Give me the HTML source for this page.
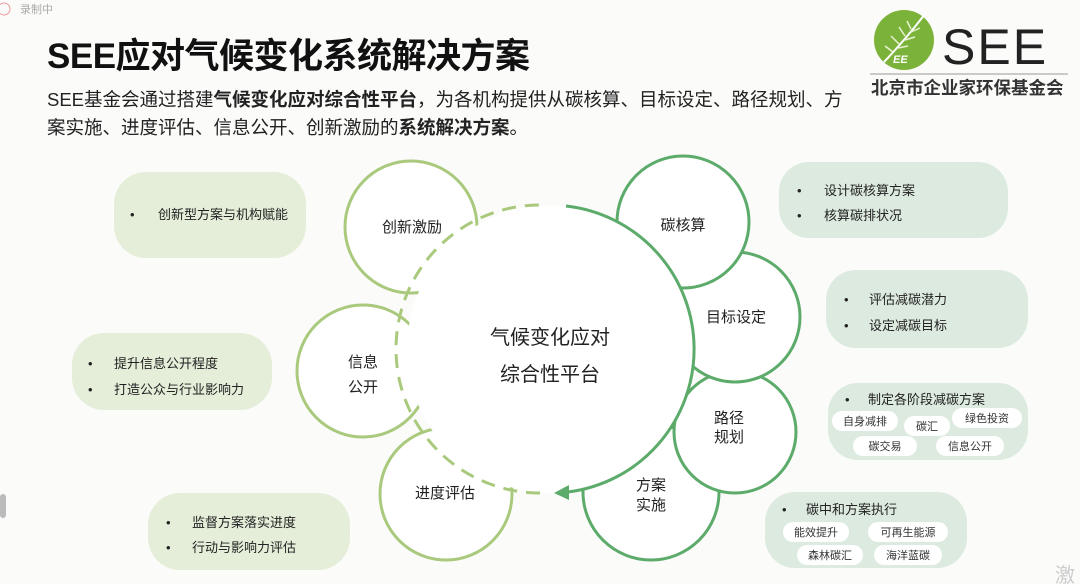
<!DOCTYPE html>
<html><head><meta charset="utf-8"><style>
html,body{margin:0;padding:0;background:#fbfbfa;}
svg{display:block;}
text{font-family:"Liberation Sans","Noto Sans CJK SC",sans-serif;}
</style></head><body>
<svg width="1080" height="584" viewBox="0 0 1080 584" xmlns="http://www.w3.org/2000/svg">
<rect width="1080" height="584" fill="#fbfbfa"/>
<text x="20" y="13" font-size="11" fill="#aaa">录制中</text>
<circle cx="4" cy="9" r="6" fill="none" stroke="#e99" stroke-width="1"/>
<rect x="0" y="494" width="6" height="24" rx="3" fill="#bbb"/>
<!-- title -->
<text x="47" y="68" font-size="35" font-weight="bold" fill="#111" letter-spacing="-0.5">SEE应对气候变化系统解决方案</text>
<text x="47" y="106" font-size="18.5" fill="#222">SEE基金会通过搭建<tspan font-weight="bold">气候变化应对综合性平台</tspan>，为各机构提供从碳核算、目标设定、路径规划、方</text>
<text x="47" y="134" font-size="18.5" fill="#222">案实施、进度评估、信息公开、创新激励的<tspan font-weight="bold">系统解决方案</tspan>。</text>
<!-- logo -->
<circle cx="904" cy="40" r="30" fill="#7bb33a"/>
<path d="M884 62 Q905 40 925 14" stroke="#fff" stroke-width="2" fill="none"/>
<path d="M893 52 l-8 -6 M899 44 l-8 -8 M905 36 l-6 -9 M911 29 l-4 -8 M898 48 l10 -2 M905 40 l10 -3 M911 32 l9 -4" stroke="#e8f2d0" stroke-width="1.5"/>
<text x="893" y="63" font-size="11" font-style="italic" font-weight="bold" fill="#fff">EE</text>
<text x="942" y="64" font-size="50" fill="#222" letter-spacing="2">SEE</text>
<line x1="870" y1="74" x2="1068" y2="74" stroke="#999" stroke-width="1"/>
<text x="871" y="94" font-size="17.5" font-weight="bold" fill="#333">北京市企业家环保基金会</text>

<!-- text boxes -->
<g font-size="13" fill="#222">
<rect x="114" y="172" width="192" height="86" rx="32" fill="#e4eed8"/>
<text x="130" y="219">•</text><text x="158" y="219">创新型方案与机构赋能</text>
<rect x="72" y="333" width="200" height="77" rx="32" fill="#e4eed8"/>
<text x="88" y="368">•</text><text x="114" y="368">提升信息公开程度</text>
<text x="88" y="394">•</text><text x="114" y="394">打造公众与行业影响力</text>
<rect x="148" y="493" width="202" height="77" rx="32" fill="#e4eed8"/>
<text x="166" y="527">•</text><text x="192" y="527">监督方案落实进度</text>
<text x="166" y="552">•</text><text x="192" y="552">行动与影响力评估</text>
<rect x="779" y="162" width="229" height="76" rx="30" fill="#dceadf"/>
<text x="797" y="195">•</text><text x="824" y="195">设计碳核算方案</text>
<text x="797" y="220">•</text><text x="824" y="220">核算碳排状况</text>
<rect x="826" y="270" width="202" height="78" rx="30" fill="#dceadf"/>
<text x="844" y="304">•</text><text x="869" y="304">评估减碳潜力</text>
<text x="844" y="330">•</text><text x="869" y="330">设定减碳目标</text>
<rect x="828" y="383" width="200" height="77" rx="30" fill="#dceadf"/>
<text x="845" y="404">•</text><text x="868" y="404">制定各阶段减碳方案</text>
<rect x="765" y="492" width="202" height="76" rx="30" fill="#dceadf"/>
<text x="782" y="514">•</text><text x="806" y="514">碳中和方案执行</text>
</g>
<g font-size="11" fill="#333" text-anchor="middle">
<rect x="832" y="411" width="66" height="20" rx="10" fill="#fff"/><text x="865" y="425">自身减排</text>
<rect x="904" y="416" width="46" height="20" rx="10" fill="#fff"/><text x="927" y="430">碳汇</text>
<rect x="952" y="408" width="70" height="20" rx="10" fill="#fff"/><text x="987" y="422">绿色投资</text>
<rect x="853" y="436" width="64" height="20" rx="10" fill="#fff"/><text x="885" y="450">碳交易</text>
<rect x="936" y="436" width="68" height="20" rx="10" fill="#fff"/><text x="970" y="450">信息公开</text>
<rect x="783" y="522" width="66" height="20" rx="10" fill="#fff"/><text x="816" y="536">能效提升</text>
<rect x="868" y="522" width="80" height="20" rx="10" fill="#fff"/><text x="908" y="536">可再生能源</text>
<rect x="797" y="545" width="66" height="20" rx="10" fill="#fff"/><text x="830" y="559">森林碳汇</text>
<rect x="874" y="545" width="68" height="20" rx="10" fill="#fff"/><text x="908" y="559">海洋蓝碳</text>
</g>

<!-- small circles -->
<g fill="#fff" stroke-width="3">
<circle cx="411" cy="227" r="66" stroke="#a9c97d"/>
<circle cx="363" cy="371" r="66" stroke="#a9c97d"/>
<circle cx="446" cy="494" r="66" stroke="#a9c97d"/>
<circle cx="651" cy="492" r="68" stroke="#5cab6a"/>
<circle cx="735" cy="432" r="61" stroke="#5cab6a"/>
<circle cx="735" cy="317" r="65" stroke="#5cab6a"/>
<circle cx="683" cy="222" r="66" stroke="#5cab6a"/>
</g>
<!-- main circle -->
<circle cx="551" cy="349" r="144" fill="#fff"/>
<path d="M566 206 A144 144 0 0 1 568 492" fill="none" stroke="#5cab6a" stroke-width="3"/>
<polygon points="554,493 569,485 569,500" fill="#5cab6a"/>
<path d="M540 493 A144 144 0 0 1 540 205" fill="none" stroke="#a9c97d" stroke-width="3" stroke-dasharray="14 9"/>

<g font-size="15" fill="#222" text-anchor="middle">
<text x="412" y="232">创新激励</text>
<text x="683" y="230">碳核算</text>
<text x="736" y="322">目标设定</text>
<text x="729" y="423">路径</text><text x="729" y="442">规划</text>
<text x="651" y="490">方案</text><text x="651" y="510">实施</text>
<text x="445" y="498">进度评估</text>
<text x="363" y="367">信息</text><text x="363" y="392">公开</text>
<text x="550" y="344" font-size="20">气候变化应对</text>
<text x="550" y="381" font-size="20">综合性平台</text>
</g>
<text x="1055" y="582" font-size="20" fill="#ccc">激</text>
</svg>
</body></html>
